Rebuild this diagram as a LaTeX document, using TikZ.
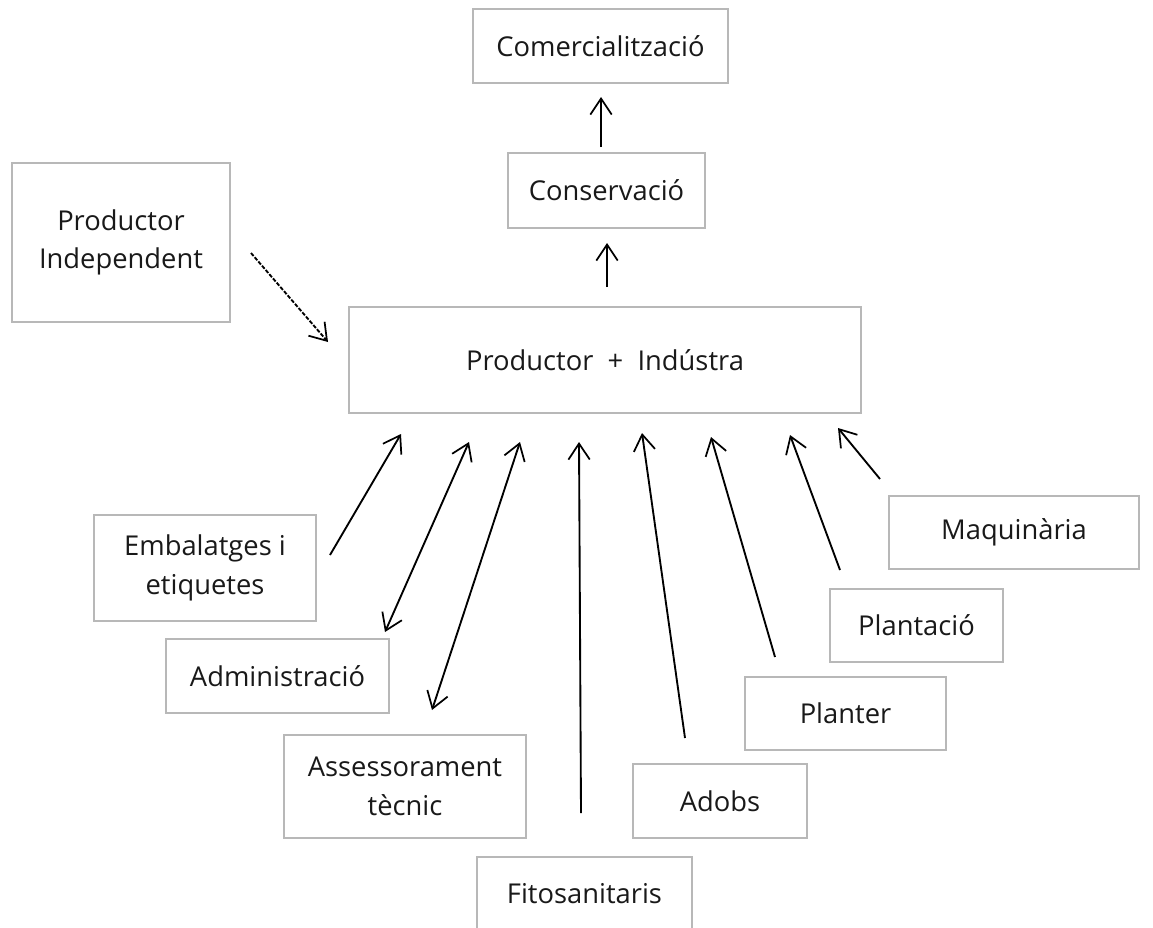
\documentclass[tikz,border=0pt]{standalone}
\usepackage{fontspec}
\setmainfont{Open Sans}
\usepackage{tikz}
\usetikzlibrary{positioning, arrows.meta, calc}

\tikzset{
    caixa/.style={draw=black!28, line width=1.2pt, text=black!90, align=center,
        font=\fontsize{20.5}{29}\selectfont, inner sep=0pt},
    fletxa/.style={line width=1.4pt, -{Straight Barb[length=12pt, width=16pt, line width=1.3pt]}},
    doble/.style={line width=1.4pt, {Straight Barb[length=12pt, width=16pt, line width=1.3pt]}-{Straight Barb[length=12pt, width=16pt, line width=1.3pt]}}
}

\begin{document}
\begin{tikzpicture}[x=0.75pt, y=-0.75pt]
    \useasboundingbox (0,0) rectangle (1153,928);

    % boxes
    \node[caixa, minimum width=191pt, minimum height=55.5pt] (comerc) at (600.5,46) {Comercialització};
    \node[caixa, minimum width=148pt, minimum height=56pt] (conserv) at (606.5,190.5) {Conservació};
    \node[caixa, minimum width=163.5pt, minimum height=119pt] (prodind) at (121,242.5) {Productor\\Independent};
    \node[caixa, minimum width=384pt, minimum height=79.5pt] (nucli) at (605,360) {Productor \ + \ Indústra};
    \node[caixa, minimum width=166.5pt, minimum height=79.5pt] (embal) at (205,568) {Embalatges i\\etiquetes};
    \node[caixa, minimum width=167pt, minimum height=55.5pt] (admin) at (277.5,676) {Administració};
    \node[caixa, minimum width=181.5pt, minimum height=77pt] (assess) at (405,786.5) {Assessorament\\tècnic};
    \node[caixa, minimum width=161pt, minimum height=55.5pt] (fito) at (584.5,894) {Fitosanitaris};
    \node[caixa, minimum width=130.5pt, minimum height=55.5pt] (adobs) at (720,801) {Adobs};
    \node[caixa, minimum width=150.5pt, minimum height=55pt] (planter) at (845.5,713.5) {Planter};
    \node[caixa, minimum width=130pt, minimum height=55pt] (plantacio) at (916.5,625.5) {Plantació};
    \node[caixa, minimum width=187.5pt, minimum height=55pt] (maquin) at (1014,532.5) {Maquinària};

    % arrow ends
    \coordinate (prodind-a) at (251,253);   \coordinate (nucli-a) at (328,342);
    \coordinate (conserv-a) at (601,147);   \coordinate (comerc-a) at (601,97);
    \coordinate (nucli-b) at (607,287);     \coordinate (conserv-b) at (607,243);
    \coordinate (embal-a) at (330,555);     \coordinate (nucli-c) at (401,434);
    \coordinate (admin-a) at (385,632);     \coordinate (nucli-d) at (469,442);
    \coordinate (assess-a) at (432,710);    \coordinate (nucli-e) at (520,442);
    \coordinate (fito-a) at (581,813);      \coordinate (nucli-f) at (579,442);
    \coordinate (adobs-a) at (685,738);     \coordinate (nucli-g) at (642,433);
    \coordinate (planter-a) at (775,657);   \coordinate (nucli-h) at (711,437);
    \coordinate (plantacio-a) at (840,570); \coordinate (nucli-i) at (790,435);
    \coordinate (maquin-a) at (880,479);    \coordinate (nucli-j) at (838,428);

    % draw arrows
    \draw[fletxa, dash pattern=on 3pt off 1.2pt] (prodind-a) -- (nucli-a);
    \foreach \from/\to/\kind in {
        conserv-a/comerc-a/fletxa,
        nucli-b/conserv-b/fletxa,
        embal-a/nucli-c/fletxa,
        admin-a/nucli-d/doble,
        assess-a/nucli-e/doble,
        fito-a/nucli-f/fletxa,
        adobs-a/nucli-g/fletxa,
        planter-a/nucli-h/fletxa,
        plantacio-a/nucli-i/fletxa,
        maquin-a/nucli-j/fletxa}{
        \draw[\kind] (\from) -- (\to);
    }
\end{tikzpicture}
\end{document}
